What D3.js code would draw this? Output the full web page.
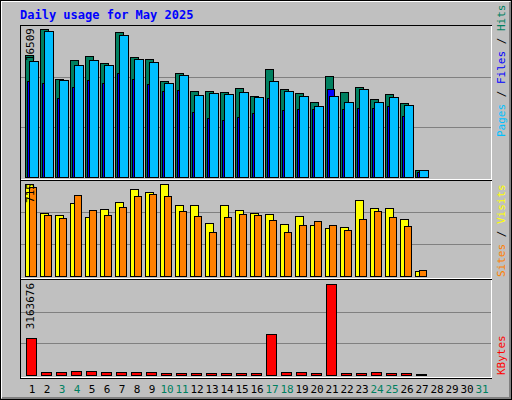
<!DOCTYPE html>
<html><head><meta charset="utf-8">
<script src="https://cdn.jsdelivr.net/npm/d3@7"></script>
<style>body{margin:0;background:#fff}svg{display:block}text{font-family:"DejaVu Sans Mono",monospace}</style>
</head><body><svg id="c" width="512" height="400"></svg>
<script>
const days = d3.range(1,32);
const weekend = [3,4,10,11,17,18,24,25,31];
const hits  = [13570,16509,10930,13050,13490,12710,16170,13380,13160,10700,11600,9590,9590,9480,9920,9030,12040,9810,9370,8360,11260,9480,10040,8700,9250,8250,780];
const files = [12930,16280,10820,12490,13050,12490,15830,13160,12820,10480,11370,9140,9370,9250,9480,8920,10700,9590,9030,7920,9030,8360,9810,8360,8920,8030,780];
const pages = [10700,10480,8810,10040,10820,10480,11600,10930,10370,9590,9700,7250,6580,6360,6690,7140,8810,7470,7580,7580,9810,7580,7690,7690,7920,6800,560];
const visits= [715,490,475,568,459,521,575,676,653,715,552,552,413,552,513,490,482,405,467,397,374,382,591,529,529,444,41];
const sites = [691,475,451,629,513,475,537,622,637,622,506,467,343,459,482,475,436,343,397,428,397,359,444,506,459,390,49];
const kbytes= [1286000,115000,115000,150000,150000,115000,115000,115000,115000,80000,80000,80000,80000,80000,80000,80000,1425000,115000,115000,80000,3163676,80000,80000,115000,80000,80000,45000];

const svg = d3.select('#c').attr('shape-rendering','crispEdges');
svg.append('rect').attr('width',512).attr('height',400).attr('fill','#C0C0C0');
// outer bevel
svg.append('rect').attr('x',0.5).attr('y',0.5).attr('width',511).attr('height',399).attr('fill','none').attr('stroke','#000');
svg.append('path').attr('d','M1.5,398V1.5H510').attr('fill','none').attr('stroke','#fff');
svg.append('path').attr('d','M2,397.5H509.5V2').attr('fill','none').attr('stroke','#808080').attr('stroke-width',2);

const x = d3.scaleLinear().domain([1,2]).range([25,40]);

svg.append('text').attr('x',20).attr('y',19).attr('fill','#0000FF').attr('font-weight','bold').attr('font-size',12).text('Daily usage for May 2025');

function panel(top,bottom){
  svg.append('rect').attr('x',20.5).attr('y',top+0.5).attr('width',471).attr('height',bottom-top).attr('fill','none').attr('stroke','#000');
  svg.append('path').attr('d',`M21,${bottom-0.5}H491.5V${top+1}`).attr('fill','none').attr('stroke','#fff');
}
function grid(y,vals){
  vals.forEach(v=>svg.append('line').attr('x1',21).attr('x2',491).attr('y1',Math.round(y(v))+0.5).attr('y2',Math.round(y(v))+0.5).attr('stroke','#808080'));
}
function bars(data,y,x0,w,fill){
  svg.append('g').selectAll('rect').data(data).join('rect')
    .attr('x',(d,i)=>x(i+1)+x0+0.5).attr('width',w)
    .attr('y',d=>Math.round(y(d))+0.5).attr('height',d=>Math.max(0,y(0)-Math.round(y(d))))
    .attr('fill',fill).attr('stroke','#000');
}
function vlabel(xp,yp,txt,anchor){
  svg.append('text').attr('transform',`translate(${xp},${yp}) rotate(-90)`).attr('text-anchor',anchor).attr('font-size',11).attr('fill','#000').text(txt);
}
function rlabel(yp,parts){
  const t=svg.append('text').attr('transform',`translate(505,${yp}) rotate(-90)`).attr('font-size',11);
  parts.forEach(p=>t.append('tspan').attr('fill',p[1]).text(p[0]));
}

// top panel
panel(25,180);
const y1 = d3.scaleLinear().domain([0,16509]).range([177,29]);
grid(d3.scaleLinear().domain([0,3]).range([177,27]),[1,2]);
bars(hits,y1,0,8,'#008060');
bars(pages,y1,2,7,'#0000FF');
bars(files,y1,4,9,'#00BFFF');
vlabel(34,28,'16509','end');
rlabel(137,[['Pages','#00C0FF'],[' / ','#000'],['Files','#0000FF'],[' / ','#000'],['Hits','#008060']]);

// middle panel
panel(180,279);
const y2 = d3.scaleLinear().domain([0,715]).range([276,184]);
grid(d3.scaleLinear().domain([0,3]).range([276,180]),[1,2]);
bars(visits,y2,0,8,'#FFFF00');
bars(sites,y2,4,7,'#FF8000');
vlabel(34,183,'715','end');
rlabel(277,[['Sites','#FF8000'],[' / ','#000'],['Visits','#FFFF00']]);

// bottom panel
panel(279,378);
const y3 = d3.scaleLinear().domain([0,3163676]).range([375,284]);
grid(d3.scaleLinear().domain([0,3]).range([375,280]),[1,2]);
bars(kbytes,y3,1,10,'#FF0000');
vlabel(34,283,'3163676','end');
rlabel(375,[['KBytes','#FF0000']]);

svg.append('g').selectAll('text').data(days).join('text')
  .attr('x',d=>x(d)+7).attr('y',393).attr('text-anchor','middle').attr('font-size',11)
  .attr('fill',d=>weekend.includes(d)?'#008060':'#000').text(d=>d);
</script></body></html>
